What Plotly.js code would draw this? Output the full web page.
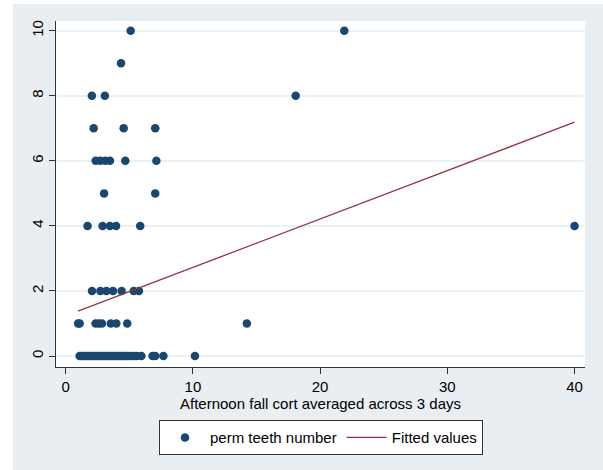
<!DOCTYPE html>
<html>
<head>
<meta charset="utf-8">
<script src="https://cdn.plot.ly/plotly-3.0.1.min.js"></script>
<style>
  html, body { margin: 0; padding: 0; background: #ffffff; width: 603px; height: 470px; overflow: hidden; }
  #chart { position: absolute; left: 13px; top: 4px; width: 590px; height: 466px; }
</style>
</head>
<body>
<div id="chart"></div>
<script>
// Scatter: perm teeth number vs afternoon fall cortisol
const cortX = [
  5.11, 21.9,
  4.35,
  2.06, 3.08, 18.08,
  2.2, 4.56, 7.04,
  2.36, 2.72, 3.11, 3.48, 4.69, 7.13,
  3.02, 7.04,
  1.72, 2.9, 3.48, 3.96, 5.86, 40.0,
  2.07, 2.73, 3.2, 3.72, 4.4, 5.35, 5.76,
  0.98, 1.1, 2.35, 2.6, 2.85, 3.55, 3.98, 4.84, 14.24,
  1.1, 1.25, 1.4, 1.55, 1.7, 1.85, 2.0, 2.15, 2.3, 2.45, 2.6, 2.75, 2.9, 3.05,
  3.2, 3.35, 3.5, 3.65, 3.8, 3.95, 4.1, 4.25, 4.4, 4.55, 4.7, 4.85, 5.0, 5.2,
  5.4, 5.6, 5.95, 6.83, 7.04, 7.68, 10.16
];
const teethY = [
  10, 10,
  9,
  8, 8, 8,
  7, 7, 7,
  6, 6, 6, 6, 6, 6,
  5, 5,
  4, 4, 4, 4, 4, 4,
  2, 2, 2, 2, 2, 2, 2,
  1, 1, 1, 1, 1, 1, 1, 1, 1,
  0, 0, 0, 0, 0, 0, 0, 0, 0, 0, 0, 0, 0, 0,
  0, 0, 0, 0, 0, 0, 0, 0, 0, 0, 0, 0, 0, 0,
  0, 0, 0, 0, 0, 0, 0
];
// Fitted values (linear fit endpoints)
const fitX = [0.97, 40.0];
const fitY = [1.38, 7.19];

const xTicks = [0, 10, 20, 30, 40];
const yTicks = [0, 2, 4, 6, 8, 10];

const data = [
  {
    x: cortX, y: teethY, type: 'scatter', mode: 'markers',
    name: 'perm teeth number',
    marker: { color: '#1a476f', size: 8.5, line: { width: 0 } }
  },
  {
    x: fitX, y: fitY, type: 'scatter', mode: 'lines',
    name: 'Fitted values',
    line: { color: '#90353b', width: 1.3 }
  }
];

const layout = {
  width: 590, height: 466,
  paper_bgcolor: '#e8eef1',
  plot_bgcolor: '#ffffff',
  margin: { l: 43, r: 18, t: 17, b: 103 },
  font: { family: 'Liberation Sans, Arial, sans-serif', size: 15, color: '#000000' },
  showlegend: true,
  xaxis: {
    range: [-0.76, 40.82],
    tickvals: xTicks, ticktext: xTicks.map(String),
    ticks: 'outside', ticklen: 6, tickcolor: '#333333', tickwidth: 1,
    showgrid: false, zeroline: false,
    showline: true, linecolor: '#333333', linewidth: 1,
    tickfont: { size: 15 },
    title: { text: 'Afternoon fall cort averaged across 3 days', font: { size: 15 }, standoff: 4 }
  },
  yaxis: {
    range: [-0.338, 10.3],
    tickvals: yTicks, ticktext: yTicks.map(String),
    tickangle: -90,
    ticks: 'outside', ticklen: 6, tickcolor: '#333333', tickwidth: 1,
    showgrid: true, gridcolor: '#eaf2f3', gridwidth: 1.5,
    zeroline: false,
    showline: true, linecolor: '#333333', linewidth: 1,
    tickfont: { size: 15 }
  },
  legend: {
    orientation: 'h',
    xref: 'container', yref: 'container',
    x: 0.522, xanchor: 'center',
    y: 0.107, yanchor: 'top',
    bgcolor: '#ffffff', bordercolor: '#333333', borderwidth: 1,
    font: { size: 15 },
    itemwidth: 40
  }
};

Plotly.newPlot('chart', data, layout, { displayModeBar: false, staticPlot: true });
</script>
</body>
</html>
